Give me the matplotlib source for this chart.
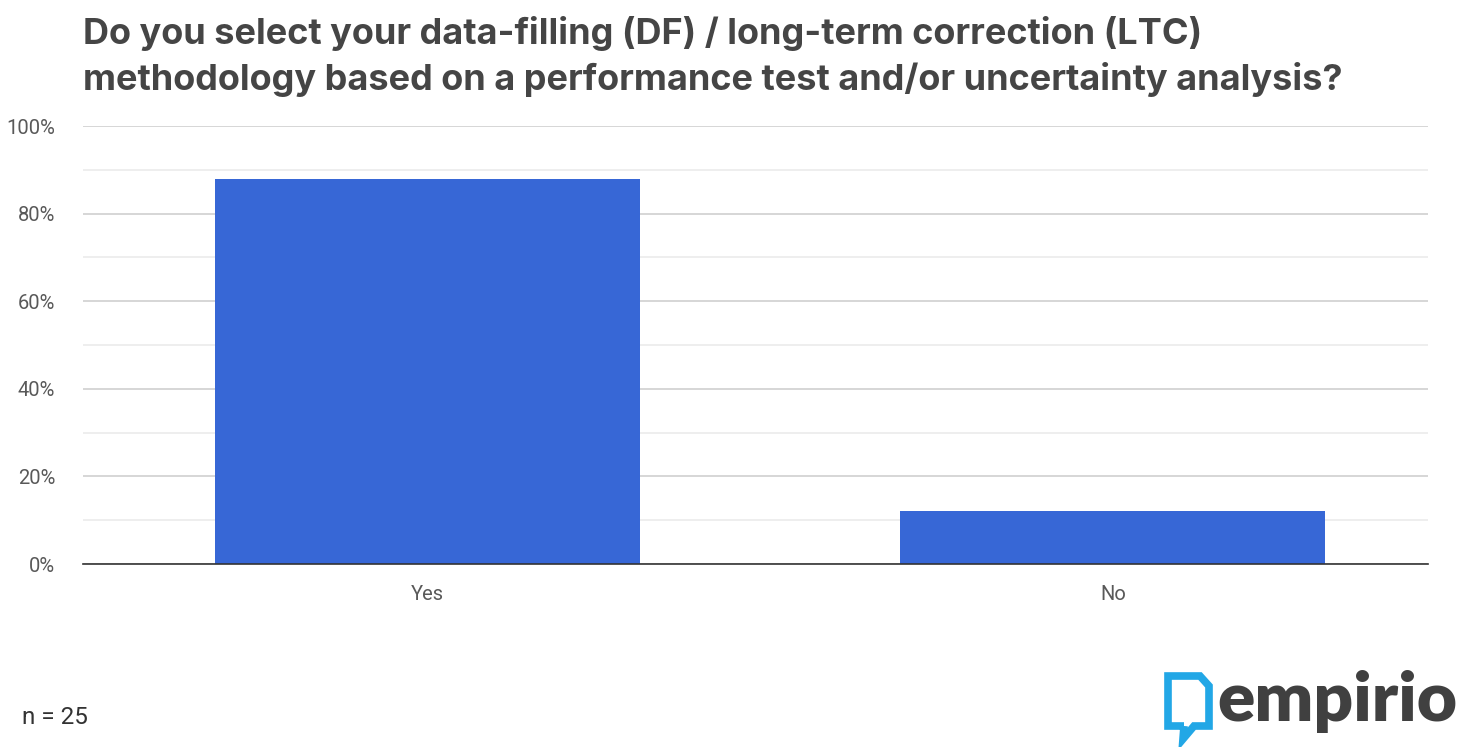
import matplotlib
matplotlib.use("Agg")
import matplotlib.pyplot as plt
from matplotlib.ticker import MultipleLocator, PercentFormatter
from matplotlib.lines import Line2D

# data
categories = ["Yes", "No"]
shares = [88, 12]  # percent of respondents (n = 25)
n_resp = 25

W, H = 1457, 747
fig = plt.figure(figsize=(W / 100, H / 100), dpi=100)
fig.patch.set_facecolor("white")

ax = fig.add_axes([83 / W, 1 - 564 / H, (1428 - 83) / W, (564 - 126) / H])
x = range(len(categories))
ax.bar(x, shares, width=0.62, color="#3767d6", zorder=3)

ax.set_ylim(0, 100)
ax.set_xlim(-0.503, 1.46)
ax.yaxis.set_major_locator(MultipleLocator(20))
ax.yaxis.set_minor_locator(MultipleLocator(10))
ax.yaxis.set_major_formatter(PercentFormatter(decimals=0))
ax.grid(which="major", axis="y", color="#cfcfcf", linewidth=1.2, zorder=0)
ax.grid(which="minor", axis="y", color="#ebebeb", linewidth=1.2, zorder=0)
ax.set_xticks(list(x))
ax.set_xticklabels(categories)

for s in ["top", "right", "left"]:
    ax.spines[s].set_visible(False)
ax.spines["bottom"].set_color("#333333")
ax.spines["bottom"].set_linewidth(1.2)
ax.spines["bottom"].set_zorder(4)
ax.tick_params(axis="both", which="both", length=0, colors="#595959", labelsize=14.5)
ax.tick_params(axis="y", pad=20)
ax.tick_params(axis="x", pad=15)
for lab in ax.get_xticklabels() + ax.get_yticklabels():
    lab.set_fontfamily("Roboto")

# title
fig.text(83 / W, 1 - 16 / H,
         "Do you select your data-filling (DF) / long-term correction (LTC)\n"
         "methodology based on a performance test and/or uncertainty analysis?",
         ha="left", va="top", fontsize=26, fontweight="bold", family="Inter",
         color="#454545", linespacing=1.4)

# sample size
fig.text(22 / W, 1 - 718 / H, f"n = {n_resp}", ha="left", va="center",
         fontsize=17.5, family="Roboto", color="#333333")

# logo
def px(pts):
    return [p[0] / W for p in pts], [1 - p[1] / H for p in pts]

icon = [(1184, 726), (1168, 726), (1168, 676), (1200, 676), (1209, 686),
        (1209, 726), (1194, 726), (1183, 739), (1184, 726)]
lx, ly = px(icon)
fig.add_artist(Line2D(lx, ly, transform=fig.transFigure, color="#22a7e6",
                      linewidth=5.5, solid_joinstyle="miter", solid_capstyle="butt"))
fig.text(1217 / W, 1 - 721 / H, "empirio", ha="left", va="baseline",
         fontsize=50, fontweight="heavy", family="Lato", color="#404040")

fig.savefig("out.png", dpi=100)
